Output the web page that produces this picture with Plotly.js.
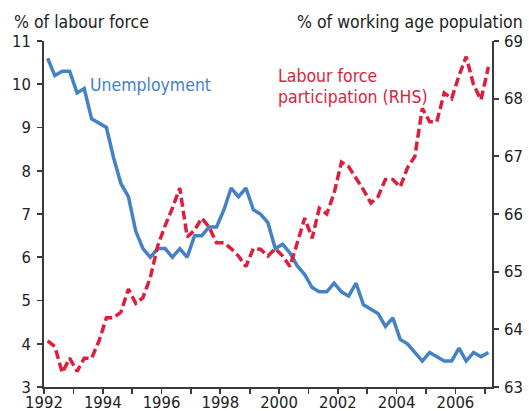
<!DOCTYPE html>
<html>
<head>
<meta charset="utf-8">
<script src="https://cdn.plot.ly/plotly-3.0.1.min.js"></script>
<style>
  html, body { margin: 0; padding: 0; background: #fff; }
  #chart { width: 529px; height: 411px; }
</style>
</head>
<body>
<div id="chart"></div>
<script>
// Quarterly periods, 1992 Q1 to 2007 Q1
const firstYear = 1992;
const lastYear = 2007;
const quarterNames = ['Q1', 'Q2', 'Q3', 'Q4'];

// Unemployment rate, % of labour force (left axis)
const unemployment = [
  10.6, 10.2, 10.3, 10.3, 9.8, 9.9, 9.2, 9.1,
  9.0, 8.3, 7.7, 7.4, 6.6, 6.2, 6.0, 6.2,
  6.2, 6.0, 6.2, 6.0, 6.5, 6.5, 6.7, 6.7,
  7.1, 7.6, 7.4, 7.6, 7.1, 7.0, 6.8, 6.2,
  6.3, 6.1, 5.8, 5.6, 5.3, 5.2, 5.2, 5.4,
  5.2, 5.1, 5.4, 4.9, 4.8, 4.7, 4.4, 4.6,
  4.1, 4.0, 3.8, 3.6, 3.8, 3.7, 3.6, 3.6,
  3.9, 3.6, 3.8, 3.7, 3.8
];

// Labour force participation, % of working age population (right axis)
const participation = [
  63.8, 63.7, 63.25, 63.5, 63.27, 63.5, 63.5, 63.8,
  64.2, 64.2, 64.3, 64.7, 64.45, 64.55, 64.9, 65.45,
  65.8, 66.1, 66.45, 65.6, 65.72, 65.93, 65.77, 65.5,
  65.5, 65.4, 65.27, 65.09, 65.4, 65.39, 65.27, 65.4,
  65.27, 65.09, 65.5, 65.93, 65.58, 66.1, 66.0, 66.36,
  66.9, 66.82, 66.62, 66.42, 66.19, 66.3, 66.6, 66.6,
  66.47, 66.8, 67.0, 67.83, 67.6, 67.6, 68.1, 68.0,
  68.4, 68.73, 68.24, 67.98, 68.55
];

// Tick labels on the x axis (every other year)
const yearTicks = [1992, 1993, 1994, 1995, 1996, 1997, 1998, 1999, 2000, 2001, 2002, 2003, 2004, 2005, 2006, 2007];
const yearLabels = ['1992', '', '1994', '', '1996', '', '1998', '', '2000', '', '2002', '', '2004', '', '2006', ''];
const leftTicks = [3, 4, 5, 6, 7, 8, 9, 10, 11];
const rightTicks = [63, 64, 65, 66, 67, 68, 69];

// Build quarter labels and mid-quarter dates
const midMonth = ['02', '05', '08', '11'];
const quarters = [];
const quarterDates = [];
for (let y = firstYear; y <= lastYear; y++) {
  for (let q = 0; q < 4; q++) {
    if (quarters.length >= unemployment.length) break;
    quarters.push(y + ' ' + quarterNames[q]);
    quarterDates.push(y + '-' + midMonth[q] + '-15');
  }
}

const BLUE = '#4482C6';
const RED = '#DD1E3D';
const AXIS = '#3a3a3a';
const FONT = "'DejaVu Sans Condensed', 'DejaVu Sans', sans-serif";

const W = 529, H = 411;
const M = { l: 44, r: 37, t: 41, b: 24 };
const px = v => (v - M.l) / (W - M.l - M.r);
const py = v => (H - M.b - v) / (H - M.t - M.b);

const traces = [
  {
    x: quarterDates, y: unemployment, text: quarters,
    type: 'scatter', mode: 'lines', name: 'Unemployment',
    line: { color: BLUE, width: 3.5 },
    xaxis: 'x', yaxis: 'y', hoverinfo: 'text+y'
  },
  {
    x: quarterDates, y: participation, text: quarters,
    type: 'scatter', mode: 'lines', name: 'Labour force participation (RHS)',
    line: { color: RED, width: 3.5, dash: '9px,4px' },
    xaxis: 'x', yaxis: 'y2', hoverinfo: 'text+y'
  }
];

const axisCommon = {
  showgrid: false, zeroline: false,
  showline: true, linecolor: AXIS, linewidth: 1.8,
  ticks: 'outside', ticklen: 5, tickwidth: 1.8, tickcolor: AXIS,
  tickfont: { family: FONT, size: 16.5, color: '#222' },
  automargin: false
};

const layout = {
  width: W, height: H,
  margin: M,
  paper_bgcolor: '#fff', plot_bgcolor: '#fff',
  showlegend: false,
  font: { family: FONT, color: '#222' },
  xaxis: Object.assign({}, axisCommon, {
    type: 'date',
    range: ['1992-01-01', '2007-04-01'],
    tickmode: 'array',
    tickvals: yearTicks.map(y => y + '-01-01'),
    ticktext: yearLabels,
    ticklabelshift: 14.7,
    ticklabelstandoff: -6
  }),
  yaxis: Object.assign({}, axisCommon, {
    range: [3, 11],
    tickmode: 'array', tickvals: leftTicks, ticktext: leftTicks.map(String),
    ticklabelstandoff: 3
  }),
  yaxis2: Object.assign({}, axisCommon, {
    range: [63, 69], overlaying: 'y', side: 'right', anchor: 'x',
    tickmode: 'array', tickvals: rightTicks, ticktext: rightTicks.map(String),
    ticklabelstandoff: 2
  }),
  annotations: [
    { text: '% of labour force', xref: 'paper', yref: 'paper', x: px(13), y: py(22),
      xanchor: 'left', yanchor: 'middle', showarrow: false, borderpad: 0,
      font: { family: FONT, size: 17.5, color: '#222' } },
    { text: '% of working age population', xref: 'paper', yref: 'paper', x: px(524), y: py(22),
      xanchor: 'right', yanchor: 'middle', showarrow: false, borderpad: 0,
      font: { family: FONT, size: 17.5, color: '#222' } },
    { text: 'Unemployment', xref: 'paper', yref: 'paper', x: px(89), y: py(85),
      xanchor: 'left', yanchor: 'middle', showarrow: false, borderpad: 0,
      font: { family: FONT, size: 17.5, color: BLUE } },
    { text: 'Labour force', xref: 'paper', yref: 'paper', x: px(277), y: py(76),
      xanchor: 'left', yanchor: 'middle', showarrow: false, borderpad: 0,
      font: { family: FONT, size: 17.5, color: RED } },
    { text: 'participation (RHS)', xref: 'paper', yref: 'paper', x: px(277), y: py(97),
      xanchor: 'left', yanchor: 'middle', showarrow: false, borderpad: 0,
      font: { family: FONT, size: 17.5, color: RED } }
  ]
};

Plotly.newPlot('chart', traces, layout, { displayModeBar: false, staticPlot: true });
</script>
</body>
</html>
